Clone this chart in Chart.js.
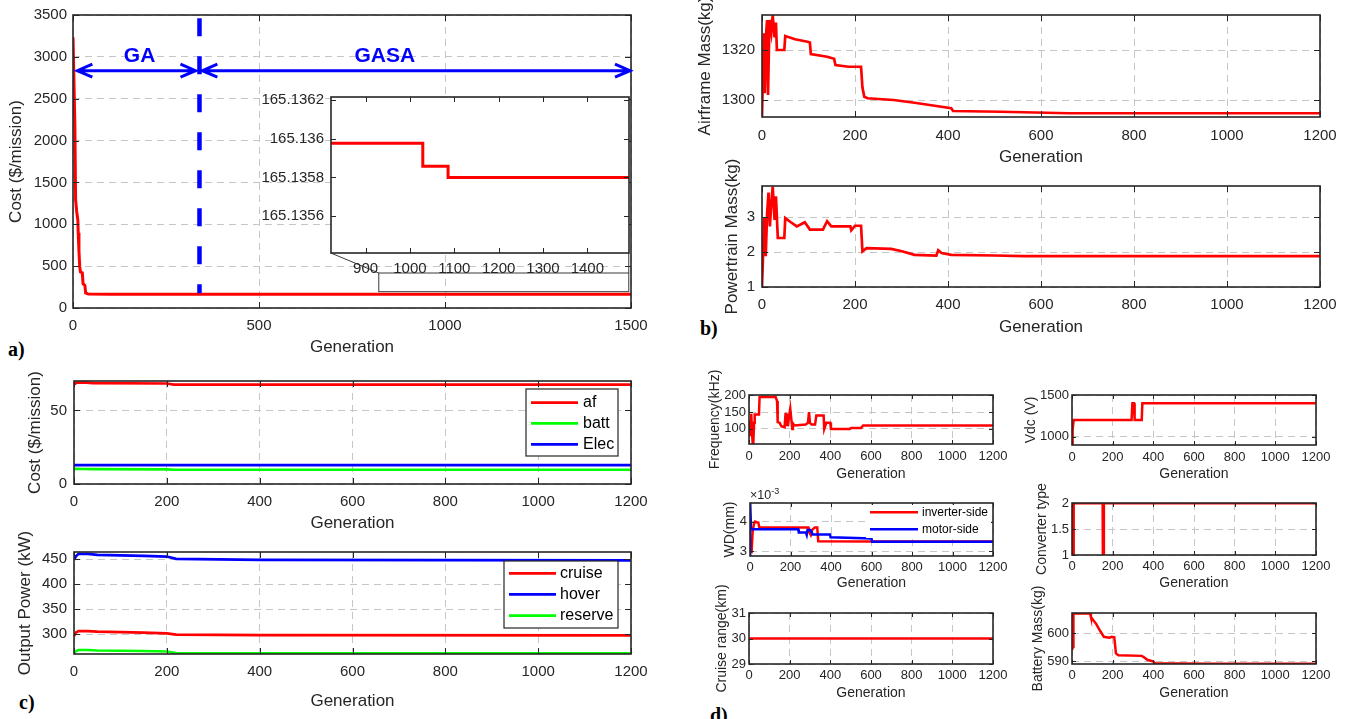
<!DOCTYPE html>
<html>
<head>
<meta charset="utf-8">
<script src="https://cdn.jsdelivr.net/npm/chart.js@4.4.1/dist/chart.umd.min.js"></script>
<style>
  body { margin: 0; background: #fff; width: 1349px; height: 719px; overflow: hidden; position: relative; }
  canvas { position: absolute; }
  .tag { position: absolute; font: bold 20px/20px "Liberation Serif", "Times New Roman", serif; color: #000; }
</style>
</head>
<body>
<div class="tag" style="left:8px;top:339px">a)</div>
<div class="tag" style="left:700px;top:318px">b)</div>
<div class="tag" style="left:19px;top:692px">c)</div>
<div class="tag" style="left:710px;top:705px">d)</div>
<script>
// Tick labels
const GEN_TICKS = [0, 200, 400, 600, 800, 1000, 1200];
const COST_GEN_TICKS = [0, 500, 1000, 1500];
const COST_TICKS = [0, 500, 1000, 1500, 2000, 2500, 3000, 3500];
const ZOOM_GEN_TICKS = [900, 1000, 1100, 1200, 1300, 1400];
const ZOOM_COST_TICKS = [165.1356, 165.1358, 165.136, 165.1362];

// a) total cost per mission
const costGen = [0, 2, 5, 7, 10, 13, 14, 16, 18, 20, 25, 27, 32, 34, 41, 100, 1500];
const costVal = [3234, 3234, 2200, 1290, 1150, 1050, 900, 680, 500, 430, 420, 290, 270, 180, 167, 165.4, 165.14];
// a) zoomed view
const zoomGen = [822, 1029, 1029, 1086, 1086, 1494];
const zoomVal = [165.135976, 165.135976, 165.135858, 165.135858, 165.1358, 165.1358];

// b) masses
const airGen = [0, 4, 6, 9, 11, 13, 16, 20, 23, 27, 30, 32, 48, 50, 71, 98, 103, 105, 140, 155, 158, 186, 213, 216, 220, 227, 283, 328, 375, 407, 411, 513, 660, 1200];
const airVal = [1293.5, 1326.7, 1302.7, 1327, 1332, 1302, 1332, 1327, 1334, 1325, 1331, 1320, 1320, 1325.6, 1324.3, 1323.3, 1323, 1318.4, 1317.3, 1316.5, 1314, 1313.3, 1313.3, 1305, 1301.3, 1300.7, 1300, 1298.9, 1297.6, 1296.7, 1295.6, 1295.3, 1294.7, 1294.7];
const ptGen = [0, 2, 5, 8, 11, 14, 17, 20, 23, 27, 30, 34, 48, 50, 62, 75, 92, 103, 131, 140, 149, 190, 192, 200, 213, 216, 225, 278, 301, 328, 375, 379, 386, 407, 499, 563, 1200];
const ptVal = [1, 1, 3.0, 1.88, 3.1, 3.7, 2.73, 3.4, 3.87, 2.92, 3.59, 2.4, 2.4, 2.97, 2.85, 2.73, 2.85, 2.64, 2.64, 2.88, 2.73, 2.73, 2.62, 2.75, 2.75, 2.02, 2.11, 2.09, 2.02, 1.92, 1.9, 2.05, 1.97, 1.92, 1.9, 1.88, 1.88];

// c) cost breakdown and output power
const ccGen = [0, 5, 20, 40, 200, 215, 1200];
const afCost = [67.8, 68.8, 69.0, 68.5, 68.3, 67.6, 67.6];
const battCost = [10.2, 10.3, 10.2, 10.1, 10.0, 9.7, 9.7];
const elecCost = [12.8, 12.8, 12.8, 12.8, 12.8, 12.8, 12.8];
const pwGen = [0, 4, 10, 30, 50, 100, 150, 200, 220, 400, 1200];
const cruisePw = [296, 303, 306, 306, 305, 304, 303, 301.5, 299, 298, 297.5];
const hoverPw = [449, 456, 461, 461, 459, 458, 457, 455.5, 451, 449, 448];
const reservePw = [261, 266, 268, 268, 267, 266.5, 266, 265, 262, 261.5, 261.5];

// d) design variables
const fqGen = [0, 1, 3, 5, 8, 11, 15, 18, 21, 25, 28, 49, 52, 131, 138, 141, 151, 159, 175, 180, 185, 187, 190, 203, 208, 213, 216, 223, 279, 290, 295, 300, 308, 325, 331, 367, 370, 380, 400, 403, 495, 503, 552, 561, 1200];
const fqVal = [108, 98, 78, 123, 78, 145, 88, 58, 55, 118, 143, 143, 195, 195, 183, 120, 118, 108, 105, 148, 108, 146, 108, 160, 130, 100, 116, 110, 113, 118, 150, 118, 113, 113, 140, 140, 100, 118, 118, 100, 100, 103, 103, 110, 110];
const vdcGen = [0, 3, 8, 293, 297, 305, 308, 343, 346, 1200];
const vdcVal = [900, 1080, 1200, 1200, 1400, 1400, 1200, 1200, 1400, 1400];
const invGen = [0, 8, 13, 20, 25, 33, 41, 46, 288, 291, 300, 307, 320, 332, 337, 600, 1200];
const invWd = [3.0, 2.98, 3.66, 3.94, 4.0, 3.98, 3.97, 3.8, 3.8, 3.66, 3.55, 3.72, 3.8, 3.8, 3.34, 3.33, 3.33];
const motGen = [0, 1, 5, 238, 241, 276, 280, 284, 296, 304, 309, 395, 398, 600, 603, 1200];
const motWd = [2.84, 4.63, 3.74, 3.74, 3.63, 3.63, 3.55, 3.72, 3.72, 3.66, 3.57, 3.57, 3.47, 3.43, 3.32, 3.32];
const convGen = [0, 6, 7, 152, 153, 155, 156, 1200];
const convVal = [1, 1, 2, 2, 1, 1, 2, 2];
const rangeGen = [0, 1200];
const rangeVal = [30, 30];
const batGen = [0, 5, 7, 89, 93, 105, 118, 129, 141, 157, 184, 195, 208, 216, 228, 343, 354, 370, 384, 400, 408, 662, 1200];
const batVal = [594.1, 595.3, 607.1, 607.1, 605.9, 604.7, 603.5, 602.1, 600.6, 598.8, 598.5, 598.8, 598.6, 592.9, 592.2, 592, 591.5, 590.6, 590.35, 590, 589.4, 589.2, 589.2];

// annotation constants for panel a (data units)
const SPLIT_GEN = 340;
const ARROW_COST = 2835;
const ZOOM_BOX = [822, 1494, 195, 418];
const INSET_CORNER = [693, 657];

const RED = '#ff0000', BLUE = '#0000ff', GREEN = '#00ff00';
const GRID = '#c6c6c6';
const AXIS = '#262626';
const FONT = '"Liberation Sans", Arial, Helvetica, sans-serif';
Chart.defaults.font.family = FONT;

const pts = (gens, vals) => gens.map((g, i) => ({ x: g, y: vals[i] }));
const line = (label, gens, vals, color, width, order) =>
  ({ label, data: pts(gens, vals), borderColor: color, borderWidth: width, pointRadius: 0, fill: false, tension: 0, order: order || 0 });

// MATLAB style box with inward ticks
Chart.register({
  id: 'matlabBox',
  defaults: { tick: 5, fill: false },
  beforeDraw(chart, args, o) {
    if (!o.fill) return;
    const a = chart.chartArea;
    chart.ctx.save();
    chart.ctx.fillStyle = '#fff';
    chart.ctx.fillRect(a.left, a.top, a.width, a.height);
    chart.ctx.restore();
  },
  afterDatasetsDraw(chart, args, o) {
    const { ctx, chartArea: a, scales: { x, y } } = chart;
    const L = o.tick;
    ctx.save();
    ctx.strokeStyle = AXIS;
    ctx.lineWidth = 1;
    ctx.beginPath();
    x.ticks.forEach(t => {
      const px = Math.round(x.getPixelForValue(t.value)) + 0.5;
      ctx.moveTo(px, a.bottom); ctx.lineTo(px, a.bottom - L);
      ctx.moveTo(px, a.top); ctx.lineTo(px, a.top + L);
    });
    y.ticks.forEach(t => {
      const py = Math.round(y.getPixelForValue(t.value)) + 0.5;
      ctx.moveTo(a.left, py); ctx.lineTo(a.left + L, py);
      ctx.moveTo(a.right, py); ctx.lineTo(a.right - L, py);
    });
    ctx.stroke();
    ctx.lineWidth = 1.6;
    ctx.strokeRect(a.left, a.top, a.width, a.height);
    ctx.restore();
  }
});

// legend drawn inside the axes
Chart.register({
  id: 'boxLegend',
  afterDraw(chart, args, o) {
    if (!o.box) return;
    const { ctx } = chart;
    const [bx, by, bw, bh] = o.box;
    ctx.save();
    ctx.fillStyle = '#fff';
    ctx.fillRect(bx, by, bw, bh);
    if (o.border) {
      ctx.strokeStyle = AXIS; ctx.lineWidth = 1.2;
      ctx.strokeRect(bx, by, bw, bh);
    }
    ctx.font = `${o.size}px ${FONT}`;
    ctx.textBaseline = 'middle';
    ctx.fillStyle = '#000';
    chart.data.datasets.forEach((ds, i) => {
      const ry = o.rows[i];
      ctx.strokeStyle = ds.borderColor;
      ctx.lineWidth = ds.borderWidth;
      ctx.beginPath(); ctx.moveTo(o.line[0], ry); ctx.lineTo(o.line[1], ry); ctx.stroke();
      ctx.fillText(ds.label, o.textX, ry);
    });
    ctx.restore();
  }
});

function plot(spec) {
  const p = spec.area;
  const tSize = spec.titleSize || 17;
  const lh = tSize * 1.2;
  const left = spec.yTitle ? Math.round(spec.yTitleX - lh / 2) : p.l - spec.padL;
  const bottom = spec.xTitle ? Math.round(spec.xTitleY + lh / 2) : p.b + spec.padB;
  const top = p.t - (spec.padT || 30);
  const right = p.r + (spec.padR || 28);
  const cv = document.createElement('canvas');
  cv.width = right - left;
  cv.height = bottom - top;
  cv.style.left = left + 'px';
  cv.style.top = top + 'px';
  document.body.appendChild(cv);

  const tickFont = { family: FONT, size: spec.tickSize || 15 };
  const titleFont = { family: FONT, size: tSize };
  const fmt = spec.fmt || (v => String(v));
  const grid = { color: GRID, lineWidth: 1, drawTicks: false };
  const border = { display: false, dash: [7, 5] };

  let legend = {};
  if (spec.legend) {
    const g = spec.legend;
    legend = {
      box: [g.box[0] - left, g.box[1] - top, g.box[2], g.box[3]],
      rows: g.rows.map(r => r - top),
      line: g.line.map(v => v - left),
      textX: g.textX - left,
      size: g.size,
      border: g.border
    };
  }

  return new Chart(cv, {
    type: 'line',
    data: { datasets: spec.datasets },
    plugins: spec.plugins || [],
    options: {
      responsive: false,
      animation: false,
      devicePixelRatio: 1,
      layout: { padding: { left: 0, bottom: 0, top: p.t - top, right: right - p.r } },
      plugins: {
        legend: { display: false },
        tooltip: { enabled: false },
        matlabBox: { tick: spec.tickLen || 6, fill: !!spec.fill },
        boxLegend: legend
      },
      scales: {
        x: {
          type: 'linear',
          min: spec.x[0], max: spec.x[1],
          afterBuildTicks: s => { s.ticks = spec.xTicks.map(v => ({ value: v })); },
          afterFit: s => { s.height = bottom - p.b; s.paddingLeft = 0; s.paddingRight = 0; },
          grid: { ...grid, display: spec.gridOn !== false },
          border,
          ticks: { font: tickFont, color: AXIS, padding: spec.xPad || 9, maxRotation: 0, autoSkip: false, callback: v => String(v) },
          title: { display: !!spec.xTitle, text: spec.xTitle, font: titleFont, color: AXIS, padding: 0 }
        },
        y: {
          type: 'linear',
          min: spec.y[0], max: spec.y[1],
          afterBuildTicks: s => { s.ticks = spec.yTicks.map(v => ({ value: v })); },
          afterFit: s => { s.width = p.l - left; s.paddingTop = 0; s.paddingBottom = 0; },
          grid: { ...grid, display: spec.gridOn !== false },
          border,
          ticks: { font: tickFont, color: AXIS, padding: spec.yPad || 6, autoSkip: false, callback: fmt },
          title: { display: !!spec.yTitle, text: spec.yTitle, font: titleFont, color: AXIS, padding: 0 }
        }
      }
    }
  });
}

// GA / GASA markings and zoom box on panel a
const gaMarks = {
  id: 'gaMarks',
  afterDatasetsDraw(chart) {
    const { ctx, scales: { x, y } } = chart;
    ctx.save();
    ctx.strokeStyle = '#3a3a3a';
    ctx.lineWidth = 1;
    const rx1 = x.getPixelForValue(ZOOM_BOX[0]), rx2 = x.getPixelForValue(ZOOM_BOX[1]);
    const ryB = y.getPixelForValue(ZOOM_BOX[2]), ryT = y.getPixelForValue(ZOOM_BOX[3]);
    ctx.strokeRect(rx1, ryT, rx2 - rx1, ryB - ryT);
    const cy = y.getPixelForValue(INSET_CORNER[1]);
    ctx.beginPath();
    ctx.moveTo(x.getPixelForValue(INSET_CORNER[0]), cy); ctx.lineTo(rx1, ryT);
    ctx.moveTo(rx2, cy); ctx.lineTo(rx2, ryT);
    ctx.stroke();

    const sx = x.getPixelForValue(SPLIT_GEN);
    ctx.strokeStyle = BLUE;
    ctx.lineWidth = 4.5;
    ctx.setLineDash([18, 20]);
    ctx.beginPath();
    ctx.moveTo(sx, y.getPixelForValue(3460));
    ctx.lineTo(sx, y.getPixelForValue(175));
    ctx.stroke();
    ctx.setLineDash([]);

    ctx.lineWidth = 3;
    const ay = y.getPixelForValue(ARROW_COST);
    const arrow = (g1, g2) => {
      const x1 = x.getPixelForValue(g1), x2 = x.getPixelForValue(g2);
      ctx.beginPath();
      ctx.moveTo(x1, ay); ctx.lineTo(x2, ay);
      ctx.moveTo(x1 + 16, ay - 6.5); ctx.lineTo(x1 + 1, ay); ctx.lineTo(x1 + 16, ay + 6.5);
      ctx.moveTo(x2 - 16, ay - 6.5); ctx.lineTo(x2 - 1, ay); ctx.lineTo(x2 - 16, ay + 6.5);
      ctx.stroke();
    };
    arrow(9, 332);
    arrow(345, 1500);

    ctx.fillStyle = BLUE;
    ctx.font = `bold 21px ${FONT}`;
    ctx.textAlign = 'center';
    ctx.textBaseline = 'middle';
    ctx.fillText('GA', x.getPixelForValue(179), y.getPixelForValue(3010));
    ctx.fillText('GASA', x.getPixelForValue(838), y.getPixelForValue(3010));
    ctx.restore();
  }
};

// x10^-3 multiplier above the WD axes
const wdExponent = {
  id: 'wdExponent',
  afterDraw(chart) {
    const { ctx, chartArea: a } = chart;
    ctx.save();
    ctx.fillStyle = AXIS;
    ctx.textBaseline = 'alphabetic';
    ctx.font = `12.5px ${FONT}`;
    ctx.fillText('\u00d710', a.left, a.top - 4);
    const w = ctx.measureText('\u00d710').width;
    ctx.font = `9px ${FONT}`;
    ctx.fillText('-3', a.left + w, a.top - 9);
    ctx.restore();
  }
};

// a)
plot({
  area: { l: 73, t: 15, r: 631, b: 308 },
  yTitle: 'Cost ($/mission)', yTitleX: 16, xTitle: 'Generation', xTitleY: 348,
  x: [0, 1500], xTicks: COST_GEN_TICKS, y: [0, 3500], yTicks: COST_TICKS,
  datasets: [line('Cost', costGen, costVal, RED, 3)],
  plugins: [gaMarks]
});
plot({
  area: { l: 331, t: 97, r: 629, b: 253 }, padL: 90, padB: 35, padT: 10, padR: 10,
  x: [822, 1494], xTicks: ZOOM_GEN_TICKS, y: [165.13541, 165.136215], yTicks: ZOOM_COST_TICKS,
  fmt: v => String(+v.toFixed(4)), xPad: 7, yPad: 7, fill: true, gridOn: false, tickLen: 5,
  datasets: [line('Cost', zoomGen, zoomVal, RED, 3)]
});

// b)
plot({
  area: { l: 762, t: 15, r: 1320, b: 117 }, padT: 15,
  yTitle: 'Airframe Mass(kg)', yTitleX: 705, xTitle: 'Generation', xTitleY: 158,
  x: [0, 1200], xTicks: GEN_TICKS, y: [1293.2, 1334], yTicks: [1300, 1320], xPad: 10, yPad: 7,
  datasets: [line('Airframe', airGen, airVal, RED, 2.7)]
});
plot({
  area: { l: 762, t: 186, r: 1320, b: 287 },
  yTitle: 'Powertrain Mass(kg)', yTitleX: 732, xTitle: 'Generation', xTitleY: 328,
  x: [0, 1200], xTicks: GEN_TICKS, y: [1, 3.886], yTicks: [1, 2, 3], xPad: 9, yPad: 7,
  datasets: [line('Powertrain', ptGen, ptVal, RED, 2.7)]
});

// c)
plot({
  area: { l: 74, t: 381, r: 631, b: 484 },
  yTitle: 'Cost ($/mission)', yTitleX: 35, xTitle: 'Generation', xTitleY: 524,
  x: [0, 1200], xTicks: GEN_TICKS, y: [0, 70], yTicks: [0, 50], xPad: 9, yPad: 7,
  datasets: [
    line('af', ccGen, afCost, RED, 2.7),
    line('batt', ccGen, battCost, GREEN, 2.7),
    line('Elec', ccGen, elecCost, BLUE, 2.7)
  ],
  legend: { box: [526, 389, 92, 67], rows: [402.7, 423.3, 444.3], line: [531, 578], textX: 583, size: 16, border: true }
});
plot({
  area: { l: 74, t: 552, r: 631, b: 654 },
  yTitle: 'Output Power (kW)', yTitleX: 25, xTitle: 'Generation', xTitleY: 702,
  x: [0, 1200], xTicks: GEN_TICKS, y: [260, 464.6], yTicks: [300, 350, 400, 450], xPad: 9, yPad: 7,
  datasets: [
    line('cruise', pwGen, cruisePw, RED, 2.7),
    line('hover', pwGen, hoverPw, BLUE, 2.7),
    line('reserve', pwGen, reservePw, GREEN, 2.7)
  ],
  legend: { box: [504, 561, 114, 67], rows: [573.3, 594.3, 615.7], line: [509, 556], textX: 560, size: 16, border: true }
});

// d)
const small = { titleSize: 14, tickSize: 13, tickLen: 4, yPad: 3 };
plot({
  ...small, area: { l: 749, t: 395, r: 993, b: 444 },
  yTitle: 'Frequency(kHz)', yTitleX: 715.5, xTitle: 'Generation', xTitleY: 475, xPad: 5,
  x: [0, 1200], xTicks: GEN_TICKS, y: [55, 201], yTicks: [100, 150, 200],
  datasets: [line('Frequency', fqGen, fqVal, RED, 2.5)]
});
plot({
  ...small, area: { l: 1072, t: 395, r: 1316, b: 445 },
  yTitle: 'Vdc (V)', yTitleX: 1031, xTitle: 'Generation', xTitleY: 475, xPad: 5,
  x: [0, 1200], xTicks: GEN_TICKS, y: [900, 1500], yTicks: [1000, 1500],
  datasets: [line('Vdc', vdcGen, vdcVal, RED, 2.5)]
});
plot({
  ...small, area: { l: 750, t: 503, r: 993, b: 556 },
  yTitle: 'WD(mm)', yTitleX: 730, xTitle: 'Generation', xTitleY: 584, xPad: 4,
  x: [0, 1200], xTicks: GEN_TICKS, y: [2.84, 4.63], yTicks: [3, 4],
  datasets: [
    line('inverter-side', invGen, invWd, RED, 2.5, 1),
    line('motor-side', motGen, motWd, BLUE, 2.5, 0)
  ],
  legend: { box: [866, 505, 125, 33], rows: [512.3, 529.3], line: [870, 918], textX: 922, size: 12, border: false },
  plugins: [wdExponent]
});
plot({
  ...small, area: { l: 1072, t: 503, r: 1316, b: 555 },
  yTitle: 'Converter type', yTitleX: 1042, xTitle: 'Generation', xTitleY: 584, xPad: 4,
  x: [0, 1200], xTicks: GEN_TICKS, y: [1, 2], yTicks: [1, 1.5, 2],
  datasets: [line('Converter', convGen, convVal, RED, 3)]
});
plot({
  ...small, area: { l: 749, t: 613, r: 993, b: 664 },
  yTitle: 'Cruise range(km)', yTitleX: 722.6, xTitle: 'Generation', xTitleY: 694, xPad: 4,
  x: [0, 1200], xTicks: GEN_TICKS, y: [29, 31], yTicks: [29, 30, 31],
  datasets: [line('Cruise range', rangeGen, rangeVal, RED, 2.5)]
});
plot({
  ...small, area: { l: 1072, t: 613, r: 1316, b: 664 },
  yTitle: 'Battery Mass(kg)', yTitleX: 1038, xTitle: 'Generation', xTitleY: 694, xPad: 4,
  x: [0, 1200], xTicks: GEN_TICKS, y: [589.1, 607.3], yTicks: [590, 600],
  datasets: [line('Battery', batGen, batVal, RED, 2.5)]
});
</script>
</body>
</html>
